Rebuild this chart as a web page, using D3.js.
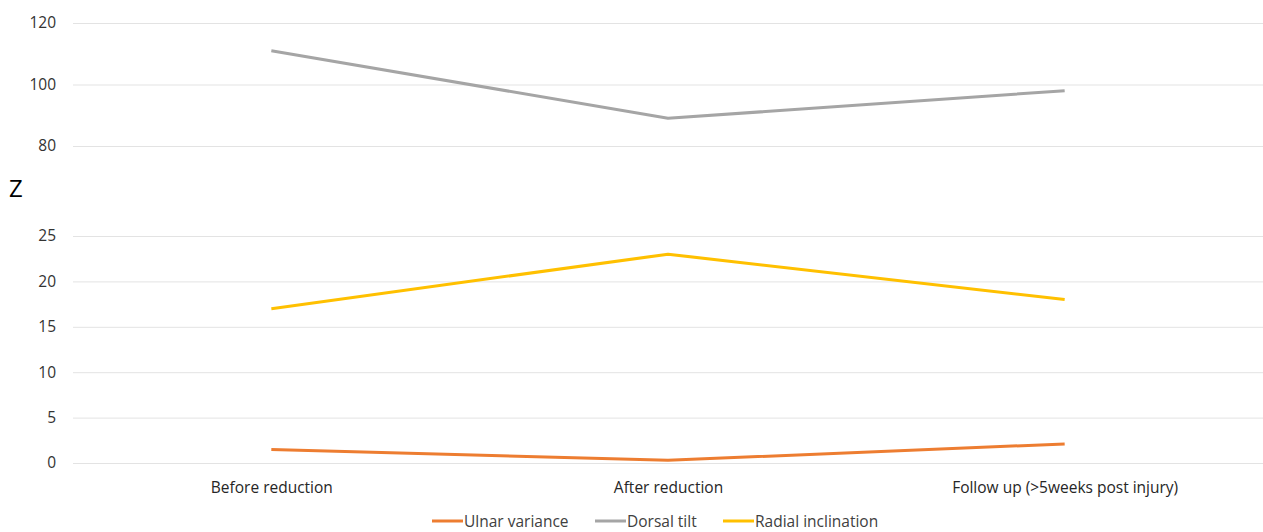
<!DOCTYPE html>
<html><head><meta charset="utf-8">
<script src="https://cdn.jsdelivr.net/npm/d3@7"></script>
<style>body{margin:0;background:#fff;}svg{display:block;}</style>
</head><body>
<svg id="c" width="1263" height="532"></svg>
<script>
const categories = ["Before reduction", "After reduction", "Follow up (>5weeks post injury)"];
const ulnarVariance = [1.5, 0.3, 2.1];
const dorsalTilt = [111, 89, 98];
const radialInclination = [17, 23, 18];
const topTicks = [80, 100, 120];
const bottomTicks = [0, 5, 10, 15, 20, 25];
const seriesNames = ["Ulnar variance", "Dorsal tilt", "Radial inclination"];
const colors = ["#ED7D31", "#A5A5A5", "#FFC000"];

const svg = d3.select("#c");
const font = "'Open Sans', sans-serif";
const x = d3.scalePoint().domain(categories).range([73, 1263]).padding(0.5);
const yTop = d3.scaleLinear().domain([80, 120]).range([146, 23]);
const yBot = d3.scaleLinear().domain([0, 25]).range([463, 236]);

function grid(scale, ticks) {
  const ax = d3.axisLeft(scale).tickValues(ticks).tickSize(-(1263 - 73)).tickPadding(17);
  const g = svg.append("g").attr("transform", "translate(73,0)").call(ax);
  g.select(".domain").remove();
  g.selectAll(".tick line").attr("stroke", "#e3e3e3").attr("stroke-width", 1);
  g.selectAll(".tick text").attr("fill", "#333").attr("font-family", font).attr("font-size", 15.5);
}
grid(yTop, topTicks);
grid(yBot, bottomTicks);

// x labels
const xa = svg.append("g").attr("transform", "translate(0,463)")
  .call(d3.axisBottom(x).tickSize(0).tickPadding(19));
xa.select(".domain").remove();
xa.selectAll(".tick text").attr("fill", "#262626").attr("font-family", font).attr("font-size", 15.5);

// y label
svg.append("text").attr("x", 9).attr("y", 197).text("Z")
  .attr("font-family", font).attr("font-size", 24).attr("fill", "#000");

const line = s => d3.line().x((d, i) => x(categories[i])).y(d => s(d));
const data = [[ulnarVariance, yBot], [dorsalTilt, yTop], [radialInclination, yBot]];
data.forEach(([vals, s], i) => {
  svg.append("path").datum(vals).attr("d", line(s)).attr("fill", "none")
    .attr("stroke", colors[i]).attr("stroke-width", 3).attr("stroke-linejoin", "round");
});

// legend
const legX = [432, 595, 723];
seriesNames.forEach((n, i) => {
  svg.append("line").attr("x1", legX[i]).attr("x2", legX[i] + 31).attr("y1", 521).attr("y2", 521)
    .attr("stroke", colors[i]).attr("stroke-width", 3);
  svg.append("text").attr("x", legX[i] + 32).attr("y", 527).text(n)
    .attr("font-family", font).attr("font-size", 15.5).attr("fill", "#404040");
});
</script>
</body></html>
